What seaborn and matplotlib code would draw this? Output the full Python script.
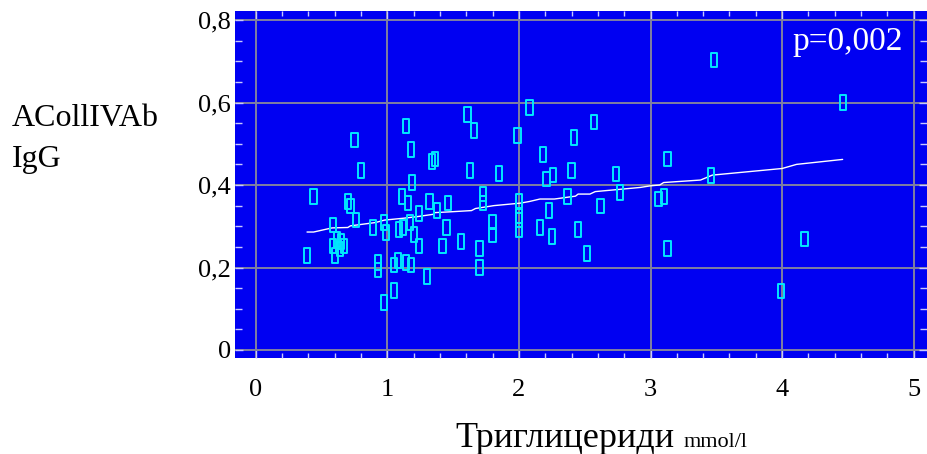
import numpy as np
import pandas as pd
import matplotlib
matplotlib.use("Agg")
import matplotlib.pyplot as plt
from matplotlib.markers import MarkerStyle
from matplotlib.path import Path
from matplotlib.ticker import MultipleLocator
import seaborn as sns

# ---- data ----
trig = [0.39, 0.44, 0.59, 0.59, 0.60, 0.62, 0.64, 0.65, 0.67, 0.70, 0.72, 0.75, 0.76, 0.80,
        0.89, 0.93, 0.93, 0.975, 0.975, 0.99, 1.05, 1.05, 1.08, 1.09, 1.11, 1.12, 1.14, 1.14,
        1.155, 1.17, 1.18, 1.18, 1.19, 1.205, 1.24, 1.24, 1.30, 1.32, 1.34, 1.36, 1.38, 1.42,
        1.45, 1.46, 1.56, 1.61, 1.63, 1.66, 1.70, 1.70, 1.73, 1.73, 1.80, 1.80, 1.85, 1.99,
        2.00, 2.00, 2.00, 2.00, 2.08, 2.16, 2.185, 2.21, 2.23, 2.25, 2.26, 2.37, 2.40, 2.42,
        2.45, 2.515, 2.57, 2.62, 2.74, 2.77, 3.06, 3.10, 3.13, 3.13, 3.46, 3.48, 3.99, 4.17, 4.46]
igg = [0.229, 0.372, 0.303, 0.252, 0.229, 0.268, 0.245, 0.263, 0.252, 0.360, 0.349, 0.509, 0.315, 0.435,
       0.297, 0.212, 0.194, 0.309, 0.115, 0.285, 0.206, 0.144, 0.217, 0.292, 0.372, 0.297, 0.543, 0.212,
       0.356, 0.309, 0.486, 0.206, 0.406, 0.280, 0.331, 0.252, 0.178, 0.360, 0.457, 0.463, 0.338, 0.252,
       0.297, 0.356, 0.263, 0.571, 0.435, 0.532, 0.246, 0.200, 0.378, 0.356, 0.310, 0.279, 0.428, 0.520,
       0.362, 0.325, 0.315, 0.291, 0.588, 0.297, 0.474, 0.415, 0.338, 0.275, 0.425, 0.372, 0.435, 0.515,
       0.292, 0.234, 0.553, 0.349, 0.426, 0.382, 0.366, 0.372, 0.463, 0.246, 0.423, 0.703, 0.143, 0.269, 0.600]

trend_x = [0.39, 0.44, 0.58, 0.70, 0.72, 0.91, 0.98, 1.11, 1.22, 1.35, 1.36, 1.48, 1.64, 1.67, 1.81,
           2.01, 2.08, 2.16, 2.27, 2.43, 2.45, 2.54, 2.58, 2.92, 3.00, 3.07, 3.10, 3.38, 3.47, 4.00, 4.11, 4.46]
trend_y = [0.286, 0.286, 0.296, 0.297, 0.301, 0.309, 0.315, 0.319, 0.323, 0.329, 0.333, 0.335, 0.338, 0.343, 0.350,
           0.356, 0.360, 0.366, 0.366, 0.373, 0.378, 0.378, 0.384, 0.394, 0.398, 0.400, 0.406, 0.412, 0.424, 0.440, 0.450, 0.462]

xtick_values = [0, 1, 2, 3, 4, 5]
xtick_labels = ["0", "1", "2", "3", "4", "5"]
ytick_values = [0, 0.2, 0.4, 0.6, 0.8]
ytick_labels = ["0", "0,2", "0,4", "0,6", "0,8"]

y_title = "ACollIVAb\nIgG"
x_title_main = "Триглицериди"
x_title_unit = "mmol/l"
p_text = "p=0,002"

# ---- plot ----
sns.set_style("white")
plt.rcParams["font.family"] = ["Liberation Serif", "DejaVu Serif"]
plt.rcParams["text.color"] = "black"

W, H = 927, 454
fig = plt.figure(figsize=(W / 100, H / 100), dpi=100)
ax = fig.add_axes([235 / W, (H - 357.7) / H, (W - 235) / W, (357.7 - 11) / H])
ax.set_facecolor("#0000f2")

df = pd.DataFrame({"x": trig, "y": igg})
tr = pd.DataFrame({"x": trend_x, "y": trend_y})

rect = MarkerStyle(Path([(-0.22, -0.5), (0.22, -0.5), (0.22, 0.5), (-0.22, 0.5), (-0.22, -0.5)],
                        [Path.MOVETO, Path.LINETO, Path.LINETO, Path.LINETO, Path.CLOSEPOLY]))

ax.grid(True, color="#8080a0", linewidth=1.4, zorder=0)
ax.set_axisbelow(True)
sns.lineplot(data=tr, x="x", y="y", ax=ax, color="white", linewidth=1.0, zorder=3)
sns.scatterplot(data=df, x="x", y="y", ax=ax, marker=rect, s=105, facecolor="none",
                edgecolor="#00e8ff", linewidth=1.4, zorder=4)

x0 = -20.7 / 131.6
x1 = (W - 255.7) / 131.6
ax.set_xlim(x0, x1)
ax.set_ylim((350 - 357.7) / 412.5, (350 - 11) / 412.5)

ax.set_xticks(xtick_values)
ax.set_xticklabels(xtick_labels)
ax.set_yticks(ytick_values)
ax.set_yticklabels(ytick_labels)
ax.xaxis.set_minor_locator(MultipleLocator(0.2))
ax.yaxis.set_minor_locator(MultipleLocator(0.05))
ax.tick_params(which="both", direction="in", top=True, right=True, bottom=True, left=True,
               color="#c8c8ff", width=1.0)
ax.tick_params(which="major", length=6, labelsize=19, labelcolor="black")
ax.tick_params(axis="x", which="minor", length=3.5)
ax.tick_params(axis="y", which="minor", length=5)
ax.tick_params(axis="x", which="major", pad=15)
ax.tick_params(axis="y", which="major", pad=3)
ax.set_xlabel("")
ax.set_ylabel("")
for s in ax.spines.values():
    s.set_visible(False)

fig.text(12 / W, 1 - 104 / H, y_title, fontsize=23, va="top", ha="left", linespacing=1.55,
         color="black")
fig.text(903 / W, 1 - 50 / H, p_text, fontsize=24, color="white", ha="right", va="baseline")
fig.text(455 / W, 1 - 447 / H, x_title_main, fontsize=26, ha="left", va="baseline", color="black")
fig.text(684 / W, 1 - 447 / H, x_title_unit, fontsize=16, ha="left", va="baseline", color="black")

fig.savefig("out.png", dpi=100)
